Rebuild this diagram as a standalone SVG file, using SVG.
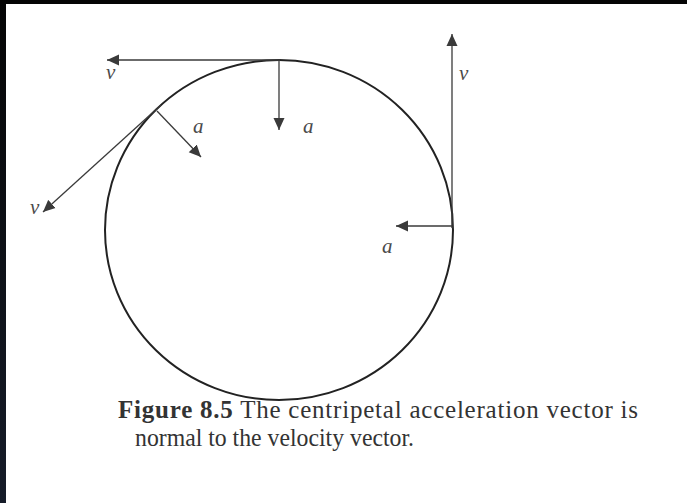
<svg xmlns="http://www.w3.org/2000/svg" width="687" height="503" viewBox="0 0 687 503">
  <defs>
    <linearGradient id="edge" x1="0" y1="0" x2="0" y2="1">
      <stop offset="0" stop-color="#050505"/>
      <stop offset="1" stop-color="#161c29"/>
    </linearGradient>
    <marker id="ah" markerUnits="userSpaceOnUse" markerWidth="14" markerHeight="12" refX="12" refY="6" orient="auto">
      <path d="M0,0.5 L12,6 L0,11.5 Z" fill="#3a3a3a"/>
    </marker>
    <style>
      .vec { stroke: #3a3a3a; stroke-width: 1.3; fill: none; marker-end: url(#ah); }
      .lbl { font-family: "Liberation Serif", "DejaVu Serif", serif; font-style: italic; font-size: 21px; fill: #4a4a4a; }
      .cap { font-family: "Liberation Serif", "DejaVu Serif", serif; font-size: 25px; fill: #333333; }
      .capb { font-weight: bold; }
    </style>
  </defs>
  <rect x="0" y="0" width="687" height="503" fill="#ffffff"/>
  <rect x="0" y="0" width="687" height="4" fill="#050505"/>
  <rect x="0" y="0" width="6" height="503" fill="url(#edge)"/>

  <g id="circle">
    <ellipse cx="279" cy="230" rx="174" ry="170" fill="none" stroke="#222222" stroke-width="2"/>
  </g>

  <g id="connectors">
    <line class="vec" x1="280" y1="60" x2="107" y2="60"/>
    <line class="vec" x1="279" y1="60" x2="279" y2="130"/>
    <line class="vec" x1="161" y1="105" x2="43" y2="212"/>
    <line class="vec" x1="157" y1="111" x2="201" y2="157"/>
    <line class="vec" x1="452" y1="228" x2="452" y2="34"/>
    <line class="vec" x1="452" y1="226" x2="396" y2="226"/>
  </g>

  <g id="labels">
    <text class="lbl" x="106" y="79">v</text>
    <text class="lbl" x="303" y="133">a</text>
    <text class="lbl" x="193" y="133">a</text>
    <text class="lbl" x="30" y="214">v</text>
    <text class="lbl" x="459" y="80">v</text>
    <text class="lbl" x="382" y="253">a</text>
  </g>

  <g id="caption">
    <text class="cap" x="118" y="418" textLength="520" lengthAdjust="spacing"><tspan class="capb">Figure 8.5</tspan> The centripetal acceleration vector is</text>
    <text class="cap" x="135" y="446" textLength="279" lengthAdjust="spacingAndGlyphs">normal to the velocity vector.</text>
  </g>
</svg>
